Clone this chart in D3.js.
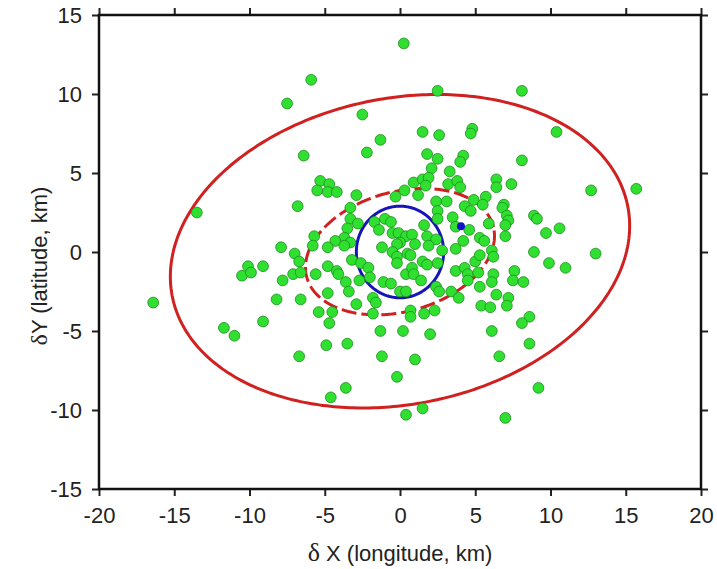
<!DOCTYPE html>
<meta charset="utf-8">
<style>
    body { margin: 0; background: #fff; }
    svg { font-family: "Liberation Sans", Arial, sans-serif; }
    .tick text { font-size: 22px; fill: #222; }
    .tick line { stroke: #222; stroke-width: 2; }
    .domain { display: none; }
    .event { fill: #30e030; stroke: #1c8c1c; stroke-width: 0.8; }
</style>
<svg width="717" height="569"></svg>
<script src="https://d3js.org/d3.v7.min.js"></script>
<script>

    // axis ticks
    var xTicks = [-20, -15, -10, -5, 0, 5, 10, 15, 20],
        yTicks = [-15, -10, -5, 0, 5, 10, 15];

    // relocated events, [dX km, dY km]
    var events = [
        [0.25, 13.2], [-5.9, 10.9], [-7.5, 9.4], [-2.5, 8.7], [2.5, 10.2], [8.1, 10.2],
        [-1.3, 7.1], [-2.2, 6.3], [-6.4, 6.1], [1.5, 7.6], [2.6, 7.4], [4.8, 7.8],
        [4.7, 7.5], [10.4, 7.6], [1.8, 6.2], [2.5, 5.9], [4.2, 6.1], [4.0, 5.7],
        [8.1, 5.8], [2.1, 5.3], [3.3, 5.1], [-5.3, 4.5], [-4.7, 4.3], [-5.5, 3.9],
        [-4.8, 3.8], [-4.2, 3.8], [-2.9, 3.6], [-0.3, 3.5], [0.3, 3.9], [0.9, 4.4],
        [1.5, 4.6], [1.9, 4.7], [1.7, 4.2], [3.2, 4.3], [3.8, 4.5], [4.0, 4.1],
        [6.4, 4.6], [6.4, 4.1], [7.4, 4.3], [12.7, 3.9], [15.7, 4.0], [1.2, 3.6],
        [5.7, 3.5],
        [-6.8, 2.9], [-13.5, 2.5], [-3.3, 2.8], [-3.3, 2.1], [-2.8, 1.8], [-1.7, 1.9],
        [-1.0, 2.1], [-0.6, 1.9], [-1.4, 1.4], [-3.5, 1.5], [-5.7, 1.0], [-3.7, 0.9],
        [-4.3, 0.7], [-3.3, 0.6], [-4.8, 0.3], [-0.5, 1.2], [-0.1, 1.2], [0.4, 1.0],
        [0.0, 0.6], [4.9, 3.3], [5.5, 3.0], [6.9, 3.0], [6.8, 2.8], [2.4, 3.2],
        [3.1, 3.2], [2.5, 2.6], [4.3, 2.9], [4.7, 2.6], [2.5, 2.1], [3.5, 2.2],
        [7.1, 2.3], [7.2, 2.0], [7.0, 1.7], [5.9, 1.8], [3.7, 1.6], [4.6, 1.4],
        [1.6, 1.7], [0.8, 1.1], [1.8, 1.0], [2.4, 0.8], [4.2, 0.7], [5.3, 0.9],
        [5.6, 0.7], [7.0, 1.0], [8.9, 2.3], [9.1, 2.1], [9.7, 1.2], [10.6, 1.5],
        [-7.9, 0.3], [-7.0, -0.1], [-5.8, 0.4], [-3.7, 0.4], [-1.2, 0.3], [-0.2, 0.5],
        [1.0, 0.5], [1.9, 0.4], [2.8, 0.1], [3.7, 0.2], [8.9, 0.0], [13.0, -0.1],
        [-6.7, -0.6], [-7.1, -1.4], [-6.6, -1.3], [-5.6, -1.4], [-4.8, -0.9], [-4.2, -1.2],
        [-4.1, -1.4], [-3.6, -1.9], [-3.2, -0.5], [-2.6, -0.7], [-2.1, -1.0], [-2.7, -1.8],
        [-2.0, -1.6], [-3.4, -2.5], [-4.8, -2.6], [-6.6, -3.0], [-5.4, -3.8], [-4.5, -3.8],
        [-4.7, -4.5], [-2.9, -3.3], [-1.8, -2.9], [-1.6, -3.2], [-1.8, -3.9], [-0.5, 0.0],
        [-0.2, -0.3], [-0.2, -0.7], [0.5, -0.1], [0.4, -1.4], [-1.1, -1.9], [-0.6, -2.0],
        [0.0, -2.5], [0.4, -2.5], [-1.3, -5.0], [0.2, -5.0], [-4.9, -5.9], [-3.5, -5.8],
        [-6.7, -6.6], [-1.2, -6.6], [0.7, -0.2], [1.5, -0.6], [1.8, -0.8], [2.5, -0.7],
        [0.8, -1.0], [0.9, -1.4], [1.4, -1.8], [2.4, -2.2], [2.6, -2.5], [3.4, -2.5],
        [3.9, -2.9], [3.7, -1.2], [4.3, -1.0], [4.5, -1.4], [4.5, -1.8], [5.0, -0.6],
        [5.2, -1.3], [5.3, -0.2], [6.1, 0.1], [6.2, -0.3], [6.2, -1.4], [6.1, -1.9],
        [5.3, -2.2], [7.6, -1.2], [7.5, -1.8], [8.2, -1.9], [6.4, -2.7], [7.2, -2.9],
        [7.1, -3.4], [5.4, -3.4], [6.0, -3.5], [0.7, -3.7], [0.7, -4.1], [1.6, -3.9],
        [2.3, -3.7], [8.6, -4.1], [8.1, -4.5], [2.0, -5.2], [6.1, -5.0], [1.0, -6.8],
        [6.6, -6.6], [8.6, -5.8], [9.2, -8.6], [-0.2, -7.9], [0.4, -10.3], [1.5, -9.9],
        [7.0, -10.5], [9.9, -0.7], [11.0, -1.0], [-16.4, -3.2], [-11.7, -4.8], [-11.0, -5.3],
        [-9.1, -4.4], [-10.5, -1.5], [-10.1, -0.9], [-9.9, -1.3], [-9.1, -0.9], [-7.8, -1.8],
        [-8.2, -3.0], [-3.6, -8.6], [-4.6, -9.2]
    ];

    // error ellipses: [centre x, centre y, semi-major, semi-minor, rotation deg]
    var outerEllipse = [0, 0.05, 15.4, 9.7, 10],
        innerEllipse = [0, 0.02, 6.4, 3.8, 14],
        circleCentre = [0, 0, 2.9, 2.9, 0],
        meanLocation = [4.05, 1.63];

    var svg = d3.select("svg"),
        margin = {top: 15, right: 16, bottom: 80, left: 99},
        width = +svg.attr("width") - margin.left - margin.right,
        height = +svg.attr("height") - margin.top - margin.bottom;

    var x = d3.scaleLinear().domain([-20, 20]).range([0, width]),
        y = d3.scaleLinear().domain([-15, 15]).range([height, 0]);

    // plain hyphen for negatives, like the original
    var fmt = function(d) { return d < 0 ? "-" + Math.abs(d) : "" + d; };

    var g = svg.append("g")
        .attr("transform", "translate(" + margin.left + "," + margin.top + ")");

    g.append("g")
        .attr("transform", "translate(0," + height + ")")
        .call(d3.axisBottom(x).tickValues(xTicks).tickFormat(fmt).tickSize(7).tickSizeOuter(0).tickPadding(11));
    g.append("g")
        .call(d3.axisLeft(y).tickValues(yTicks).tickFormat(fmt).tickSize(7).tickSizeOuter(0).tickPadding(10));
    g.append("g")
        .call(d3.axisTop(x).tickValues(xTicks).tickSize(7).tickSizeOuter(0).tickFormat(""));
    g.append("g")
        .attr("transform", "translate(" + width + ",0)")
        .call(d3.axisRight(y).tickValues(yTicks).tickSize(7).tickSizeOuter(0).tickFormat(""));

    function ellipsePoints(e) {
        var th = e[4] * Math.PI / 180, pts = [];
        for (var i = 0; i < 360; i++) {
            var t = i * Math.PI / 180;
            pts.push([
                e[0] + e[2] * Math.cos(t) * Math.cos(th) - e[3] * Math.sin(t) * Math.sin(th),
                e[1] + e[2] * Math.cos(t) * Math.sin(th) + e[3] * Math.sin(t) * Math.cos(th)
            ]);
        }
        return pts;
    }

    var line = d3.line()
        .x(function(d) { return x(d[0]); })
        .y(function(d) { return y(d[1]); })
        .curve(d3.curveLinearClosed);

    g.append("path")
        .attr("d", line(ellipsePoints(outerEllipse)))
        .attr("fill", "none").attr("stroke", "#d02020").attr("stroke-width", 3);
    g.append("path")
        .attr("d", line(ellipsePoints(innerEllipse)))
        .attr("fill", "none").attr("stroke", "#d02020").attr("stroke-width", 3)
        .attr("stroke-dasharray", "15,5");
    g.append("path")
        .attr("d", line(ellipsePoints(circleCentre)))
        .attr("fill", "none").attr("stroke", "#1616b8").attr("stroke-width", 3);

    g.selectAll(".event")
        .data(events)
        .enter().append("circle")
        .attr("class", "event")
        .attr("cx", function(d) { return x(d[0]); })
        .attr("cy", function(d) { return y(d[1]); })
        .attr("r", 5.4);

    g.append("circle")
        .attr("cx", x(meanLocation[0]))
        .attr("cy", y(meanLocation[1]))
        .attr("r", 4)
        .attr("fill", "#1212c8");

    // frame
    g.append("rect")
        .attr("width", width).attr("height", height)
        .attr("fill", "none").attr("stroke", "#111").attr("stroke-width", 2.5);

    // axis titles
    var xt = svg.append("text")
        .attr("x", margin.left + x(0))
        .attr("y", 561)
        .attr("text-anchor", "middle")
        .attr("font-size", 22).attr("fill", "#222");
    xt.append("tspan").attr("font-family", "Liberation Serif, serif").attr("font-size", 26).text("\u03b4");
    xt.append("tspan").text(" X (longitude, km)");

    var yt = svg.append("text")
        .attr("transform", "translate(47," + (margin.top + y(0) + 14) + ") rotate(-90)")
        .attr("text-anchor", "middle")
        .attr("font-size", 22).attr("fill", "#222");
    yt.append("tspan").attr("font-family", "Liberation Serif, serif").attr("font-size", 24).text("\u03b4");
    yt.append("tspan").text("Y (latitude, km)");

</script>
